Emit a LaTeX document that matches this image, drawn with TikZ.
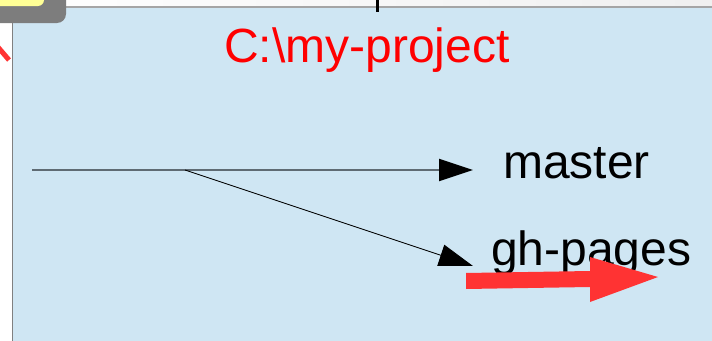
\documentclass[tikz,border=0pt]{standalone}
\usepackage{fontspec}
\setmainfont{Liberation Sans}
\usetikzlibrary{arrows.meta}
\definecolor{panelblue}{RGB}{207,230,243}
\definecolor{bordergray}{RGB}{128,128,128}
\definecolor{topgray}{RGB}{165,165,165}
\definecolor{shadowgray}{RGB}{125,125,125}
\definecolor{noteyellow}{RGB}{255,255,150}
\definecolor{mainline}{RGB}{95,107,115}
\definecolor{bigred}{RGB}{255,51,51}
\tikzset{
  bigtext/.style={font=\fontsize{48}{52}\selectfont, inner sep=0pt},
  branch/.style={-{Triangle[length=34pt,width=22pt,color=black]}},
}
\begin{document}
\begin{tikzpicture}[x=1pt,y=-1pt]
\useasboundingbox (0,0) rectangle (712,340);
\clip (0,0) rectangle (712,340);
% top strip
\fill[white] (0,0) rectangle (712,340);
\shade[left color=white,right color=black!6] (0,0) rectangle (712,7);
% panel
\fill[panelblue] (12,8) rectangle (713,341);
\draw[topgray,line width=2pt] (12,7) -- (713,7);
\draw[bordergray,line width=1.2pt] (12.5,7) -- (12.5,341);
% top-left note with shadow
\fill[shadowgray,rounded corners=9pt] (-20,-20) rectangle (66,23);
\fill[noteyellow,rounded corners=6pt] (-20,-20) rectangle (44,6);
% red stroke at left
\draw[bigred,line width=5pt] (-3,46) -- (9,60);
% black tick at top
\draw[black,line width=3pt] (377,-2) -- (377,12);
% title
\node[bigtext, text=red, anchor=base west] (title) at (224,62) {C:\textbackslash my-project};
% branch labels
\node[bigtext, anchor=base west] (master) at (503,178) {master};
\node[bigtext, anchor=base west] (ghpages) at (491,265) {gh-pages};
% connectors
\coordinate (start) at (32,170);
\coordinate (fork) at (185,170);
\coordinate (mtip) at (473,170);
\coordinate (gtip) at (473,266);
\draw[mainline,line width=2pt] (start) -- (fork);
\draw[branch,line width=2pt,mainline] (fork) -- (mtip);
\draw[branch,line width=0.9pt,black] (fork) -- (gtip);
% big red arrow
\fill[bigred] (466,273) -- (590,271) -- (590,257) -- (658,277) -- (590,302) -- (590,287) -- (466,289) -- cycle;
\end{tikzpicture}
\end{document}
